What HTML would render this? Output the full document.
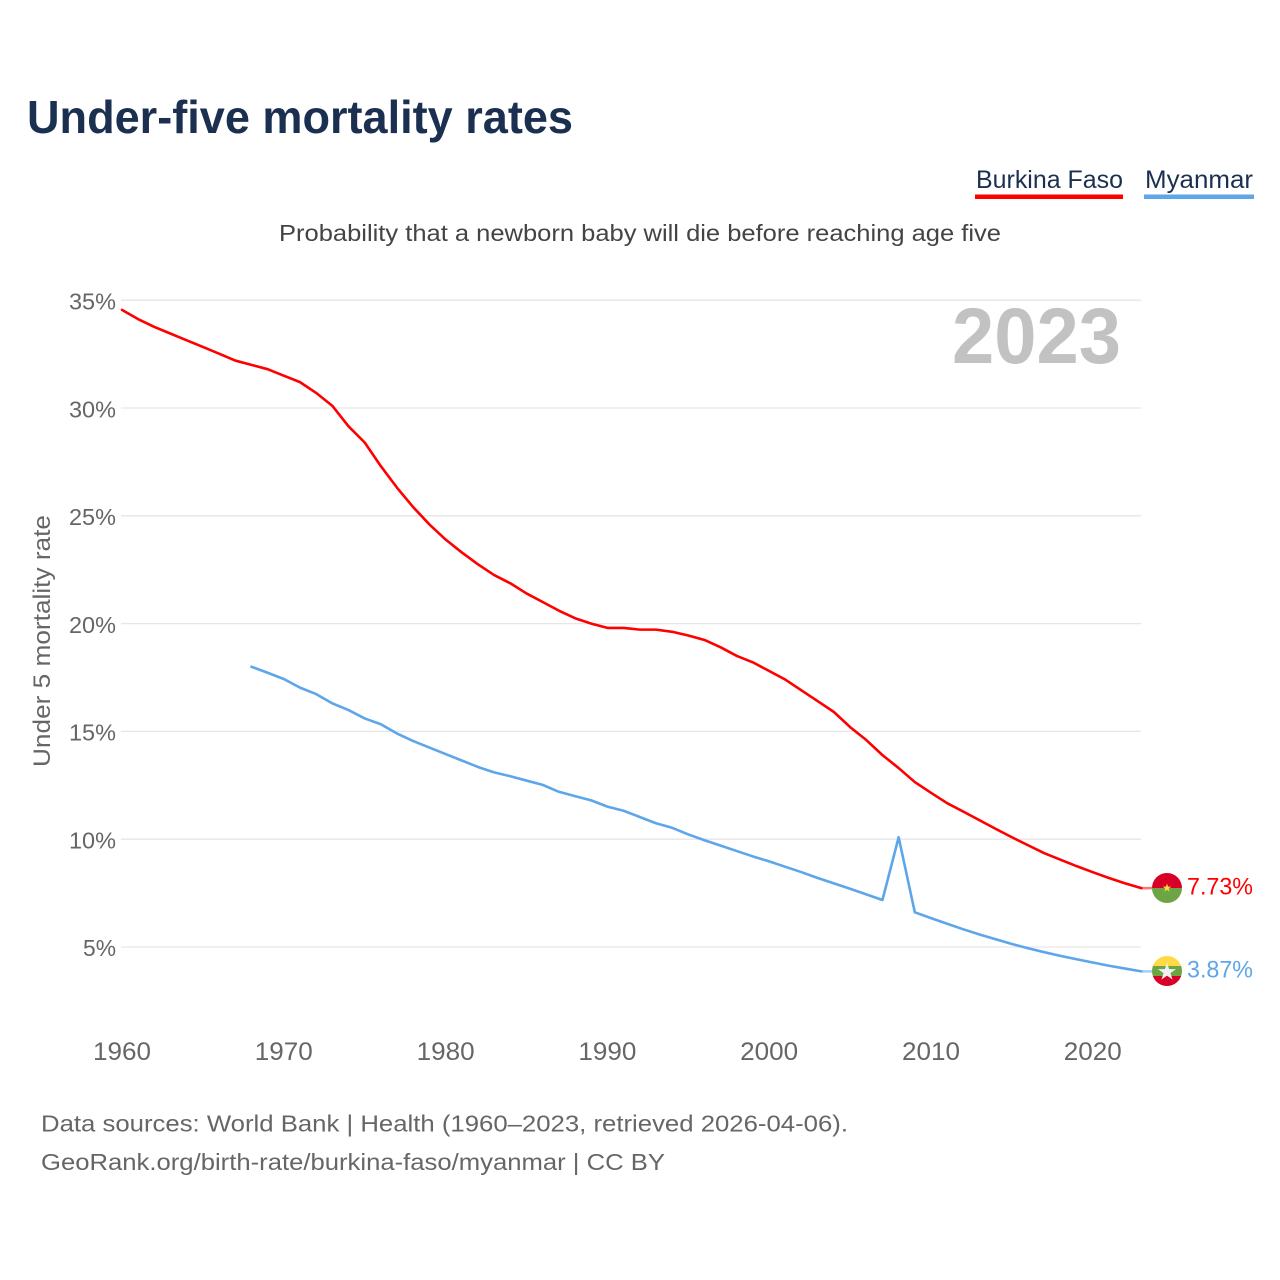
<!DOCTYPE html>
<html>
<head>
<meta charset="utf-8">
<style>
  html,body{margin:0;padding:0;background:#fff;}
  svg{display:block;}
  text{font-family:"Liberation Sans", Arial, sans-serif;}
</style>
</head>
<body>
<svg width="1280" height="1280" viewBox="0 0 1280 1280" xmlns="http://www.w3.org/2000/svg">
  <rect width="1280" height="1280" fill="#ffffff"/>

  <!-- Title -->
  <text x="27" y="133" font-size="46" font-weight="bold" fill="#1b3050" textLength="546" lengthAdjust="spacingAndGlyphs">Under-five mortality rates</text>

  <!-- Legend -->
  <text x="976" y="188" font-size="25" fill="#1b3050" textLength="147" lengthAdjust="spacingAndGlyphs">Burkina Faso</text>
  <rect x="975" y="194.5" width="148" height="4.5" fill="#ff0000"/>
  <text x="1145" y="188" font-size="25" fill="#1b3050" textLength="108" lengthAdjust="spacingAndGlyphs">Myanmar</text>
  <rect x="1144" y="194.5" width="110" height="4.5" fill="#5ea6ea"/>

  <!-- Subtitle -->
  <text x="279" y="241" font-size="23" fill="#444444" textLength="722" lengthAdjust="spacingAndGlyphs">Probability that a newborn baby will die before reaching age five</text>

  <!-- Gridlines -->
  <g stroke="#e6e6e6" stroke-width="1.3">
    <line x1="121" y1="300.2" x2="1141" y2="300.2"/>
    <line x1="121" y1="408" x2="1141" y2="408"/>
    <line x1="121" y1="515.8" x2="1141" y2="515.8"/>
    <line x1="121" y1="623.6" x2="1141" y2="623.6"/>
    <line x1="121" y1="731.4" x2="1141" y2="731.4"/>
    <line x1="121" y1="839.2" x2="1141" y2="839.2"/>
    <line x1="121" y1="947" x2="1141" y2="947"/>
  </g>

  <!-- Year watermark -->
  <text x="1121" y="363" font-size="79" font-weight="bold" fill="#c2c2c2" text-anchor="end" textLength="169" lengthAdjust="spacingAndGlyphs">2023</text>

  <!-- Y tick labels -->
  <g font-size="23" fill="#666666" text-anchor="end">
    <text x="116" y="309.5" textLength="47" lengthAdjust="spacingAndGlyphs">35%</text>
    <text x="116" y="417.3" textLength="47" lengthAdjust="spacingAndGlyphs">30%</text>
    <text x="116" y="525.1" textLength="47" lengthAdjust="spacingAndGlyphs">25%</text>
    <text x="116" y="632.9" textLength="47" lengthAdjust="spacingAndGlyphs">20%</text>
    <text x="116" y="740.5" textLength="47" lengthAdjust="spacingAndGlyphs">15%</text>
    <text x="116" y="848.3" textLength="47" lengthAdjust="spacingAndGlyphs">10%</text>
    <text x="116" y="956" textLength="33" lengthAdjust="spacingAndGlyphs">5%</text>
  </g>

  <!-- Y axis title -->
  <text transform="translate(50,641) rotate(-90)" font-size="24" fill="#666666" text-anchor="middle" textLength="252" lengthAdjust="spacingAndGlyphs">Under 5 mortality rate</text>

  <!-- X tick labels -->
  <g font-size="25" fill="#666666" text-anchor="middle">
    <text x="122" y="1060" textLength="58" lengthAdjust="spacingAndGlyphs">1960</text>
    <text x="283.8" y="1060" textLength="58" lengthAdjust="spacingAndGlyphs">1970</text>
    <text x="445.6" y="1060" textLength="58" lengthAdjust="spacingAndGlyphs">1980</text>
    <text x="607.4" y="1060" textLength="58" lengthAdjust="spacingAndGlyphs">1990</text>
    <text x="769.2" y="1060" textLength="58" lengthAdjust="spacingAndGlyphs">2000</text>
    <text x="931" y="1060" textLength="58" lengthAdjust="spacingAndGlyphs">2010</text>
    <text x="1092.8" y="1060" textLength="58" lengthAdjust="spacingAndGlyphs">2020</text>
  </g>

  <!-- Series (data coords: x = years since 1960, y = percent) -->
  <g transform="translate(122,1054.8) scale(16.18,-21.56)" fill="none">
    <polyline vector-effect="non-scaling-stroke" stroke="#ff0000" stroke-width="2.6" stroke-linejoin="round" stroke-linecap="round"
      points="0,34.55 1,34.12 2,33.76 3,33.45 4,33.14 5,32.83 6,32.52 7,32.2 8,32.0 9,31.8 10,31.5 11,31.2 12,30.7 13,30.1 14,29.15 15,28.4 16,27.3 17,26.3 18,25.4 19,24.6 20,23.9 21,23.3 22,22.75 23,22.25 24,21.87 25,21.4 26,21.0 27,20.6 28,20.25 29,20.0 30,19.8 31,19.8 32,19.72 33,19.72 34,19.62 35,19.45 36,19.24 37,18.9 38,18.5 39,18.2 40,17.8 41,17.4 42,16.9 43,16.4 44,15.9 45,15.2 46,14.6 47,13.9 48,13.3 49,12.65 50,12.15 51,11.67 52,11.28 53,10.88 54,10.48 55,10.09 56,9.72 57,9.35 58,9.05 59,8.75 60,8.47 61,8.2 62,7.95 63,7.73"/>
    <polyline vector-effect="non-scaling-stroke" stroke="#5ea6ea" stroke-width="2.6" stroke-linejoin="round" stroke-linecap="round"
      points="8,18.0 9,17.72 10,17.43 11,17.03 12,16.73 13,16.3 14,15.99 15,15.6 16,15.33 17,14.9 18,14.55 19,14.25 20,13.95 21,13.65 22,13.35 23,13.1 24,12.92 25,12.72 26,12.52 27,12.2 28,12.0 29,11.8 30,11.51 31,11.32 32,11.03 33,10.74 34,10.53 35,10.22 36,9.95 37,9.7 38,9.45 39,9.2 40,8.97 41,8.72 42,8.47 43,8.2 44,7.95 45,7.7 46,7.44 47,7.18 48,10.09 49,6.61 50,6.34 51,6.08 52,5.82 53,5.58 54,5.36 55,5.14 56,4.94 57,4.76 58,4.59 59,4.43 60,4.28 61,4.13 62,4.0 63,3.87"/>
  </g>

  <!-- End stubs -->
  <line x1="1141.5" y1="888.1" x2="1152" y2="888.1" stroke="#ff0000" stroke-opacity="0.55" stroke-width="2.5"/>
  <line x1="1141.5" y1="971.4" x2="1152" y2="971.4" stroke="#5ea6ea" stroke-opacity="0.55" stroke-width="2.5"/>

  <defs>
    <clipPath id="cBF"><circle cx="1167" cy="888" r="15"/></clipPath>
    <clipPath id="cMM"><circle cx="1167" cy="971" r="15"/></clipPath>
  </defs>

  <!-- Burkina Faso flag -->
  <g clip-path="url(#cBF)">
    <rect x="1150" y="871" width="34" height="17" fill="#d80027"/>
    <rect x="1150" y="888" width="34" height="18" fill="#6da544"/>
  </g>
  <polygon transform="translate(1167,888) scale(4.5)" fill="#ffda44"
    points="0,-1 0.2245,-0.309 0.951,-0.309 0.363,0.118 0.588,0.809 0,0.382 -0.588,0.809 -0.363,0.118 -0.951,-0.309 -0.2245,-0.309"/>

  <!-- Myanmar flag -->
  <g clip-path="url(#cMM)">
    <rect x="1150" y="954" width="34" height="12" fill="#ffda44"/>
    <rect x="1150" y="966" width="34" height="10" fill="#6da544"/>
    <rect x="1150" y="976" width="34" height="12" fill="#d80027"/>
  </g>
  <polygon transform="translate(1167,972) scale(9.5)" fill="#f0f0f0"
    points="0,-1 0.2245,-0.309 0.951,-0.309 0.363,0.118 0.588,0.809 0,0.382 -0.588,0.809 -0.363,0.118 -0.951,-0.309 -0.2245,-0.309"/>

  <!-- Value labels -->
  <text x="1187" y="894.5" font-size="24" fill="#ff0000" textLength="66" lengthAdjust="spacingAndGlyphs">7.73%</text>
  <text x="1187" y="977.5" font-size="24" fill="#5ea6ea" textLength="66" lengthAdjust="spacingAndGlyphs">3.87%</text>

  <!-- Footer -->
  <text x="41" y="1131.5" font-size="23" fill="#666666" textLength="807" lengthAdjust="spacingAndGlyphs">Data sources: World Bank | Health (1960–2023, retrieved 2026-04-06).</text>
  <text x="41" y="1170" font-size="23" fill="#666666" textLength="624" lengthAdjust="spacingAndGlyphs">GeoRank.org/birth-rate/burkina-faso/myanmar | CC BY</text>
</svg>
</body>
</html>
